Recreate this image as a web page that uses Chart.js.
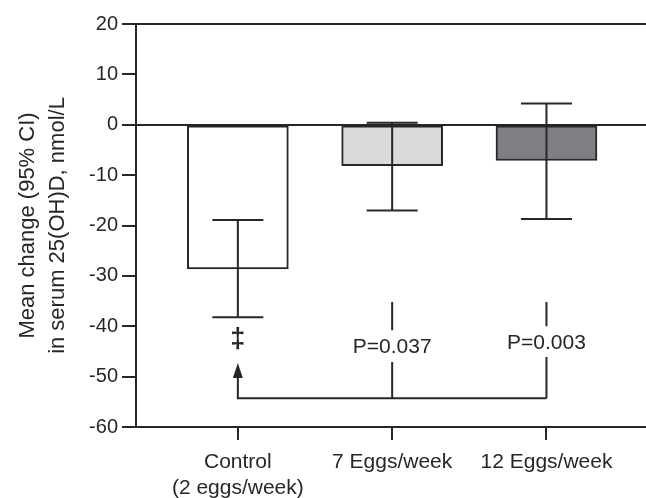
<!DOCTYPE html>
<html>
<head>
<meta charset="utf-8">
<script src="https://cdn.jsdelivr.net/npm/chart.js@4.4.0/dist/chart.umd.min.js"></script>
<style>
  html, body { margin: 0; padding: 0; background: #fff; }
  #wrap { width: 646px; height: 498px; }
</style>
</head>
<body>
<div id="wrap"><canvas id="eggs"></canvas></div>
<script>
const categories = [['Control', '(2 eggs/week)'], '7 Eggs/week', '12 Eggs/week'];
const meanChange = [-28.6, -8.1, -7.1];
const ciLower = [-38.2, -17.0, -18.7];
const ciUpper = [-18.9, 0.4, 4.2];
const barColors = ['#ffffff', '#d9dadc', '#7e7f83'];
const yTicks = [-60, -50, -40, -30, -20, -10, 0, 10, 20];
const pLabels = ['', 'P=0.037', 'P=0.003'];

// where the significance marks sit, in y-axis units
const daggerY = -42.6;
const arrowTipY = -47.3;
const bracketY = -54.3;
const stemTopY = -35.2;
const stemGaps = [null, [-40.8, -47.1], [-40.0, -46.1]];
const pLabelY = [null, -44.1, -43.3];

const ink = '#2a2627';
const family = '"Liberation Sans", Arial, Helvetica, sans-serif';

const extras = {
    id: 'extras',
    afterDatasetsDraw(chart) {
        const {ctx, scales: {x, y}} = chart;
        ctx.save();
        ctx.strokeStyle = ink;
        ctx.fillStyle = ink;
        ctx.lineWidth = 2;

        // 95% CI whiskers
        meanChange.forEach((m, i) => {
            const cx = x.getPixelForValue(i);
            const lo = y.getPixelForValue(ciLower[i]);
            const hi = y.getPixelForValue(ciUpper[i]);
            ctx.beginPath();
            ctx.moveTo(cx, lo);
            ctx.lineTo(cx, hi);
            ctx.moveTo(cx - 25.5, lo);
            ctx.lineTo(cx + 25.5, lo);
            ctx.moveTo(cx - 25.5, hi);
            ctx.lineTo(cx + 25.5, hi);
            ctx.stroke();
        });

        // bracket back to control
        const by = y.getPixelForValue(bracketY);
        const x0 = x.getPixelForValue(0);
        const tip = y.getPixelForValue(arrowTipY);
        ctx.beginPath();
        ctx.moveTo(x0, tip + 12);
        ctx.lineTo(x0, by);
        ctx.lineTo(x.getPixelForValue(2), by);
        ctx.stroke();
        ctx.beginPath();
        ctx.moveTo(x0, tip);
        ctx.lineTo(x0 - 5, tip + 15);
        ctx.lineTo(x0 + 5, tip + 15);
        ctx.closePath();
        ctx.fill();

        ctx.textAlign = 'center';
        ctx.textBaseline = 'middle';
        ctx.font = 'bold 27px ' + family;
        ctx.fillText('\u2021', x0, y.getPixelForValue(daggerY));

        ctx.font = '21px ' + family;
        [1, 2].forEach(i => {
            const cx = x.getPixelForValue(i);
            ctx.beginPath();
            ctx.moveTo(cx, y.getPixelForValue(stemTopY));
            ctx.lineTo(cx, y.getPixelForValue(stemGaps[i][0]));
            ctx.moveTo(cx, y.getPixelForValue(stemGaps[i][1]));
            ctx.lineTo(cx, by);
            ctx.stroke();
            ctx.fillText(pLabels[i], cx, y.getPixelForValue(pLabelY[i]));
        });
        ctx.restore();
    }
};

new Chart(document.getElementById('eggs'), {
    type: 'bar',
    data: {
        datasets: [
            {
                label: 'Mean change',
                data: meanChange.map((v, i) => ({x: i, y: v})),
                backgroundColor: barColors,
                borderColor: ink,
                borderWidth: 2,
                borderSkipped: false,
                barThickness: 101,
            }
        ],
    },
    options: {
        responsive: true,
        maintainAspectRatio: false,
        animation: false,
        layout: {padding: {top: 24, right: 0, bottom: 0, left: 0}},
        plugins: {legend: {display: false}, tooltip: {enabled: false}},
        scales: {
            x: {
                type: 'linear',
                min: -0.66,
                max: 2.645,
                offset: false,
                afterBuildTicks: (s) => { s.ticks = categories.map((c, i) => ({value: i})); },
                afterFit: (s) => { s.height = 71; },
                border: {display: true, color: ink, width: 2},
                grid: {offset: false, drawOnChartArea: false, drawTicks: true, tickLength: 13, tickColor: ink, color: ink, lineWidth: 2},
                ticks: {
                    color: ink,
                    font: {family: family, size: 21, lineHeight: '26px'},
                    padding: 9,
                    maxRotation: 0,
                    autoSkip: false,
                    callback: (v) => categories[v],
                },
            },
            y: {
                min: -60,
                max: 20,
                afterBuildTicks: (s) => { s.ticks = yTicks.map((v) => ({value: v})); },
                afterFit: (s) => { s.width = 136; },
                border: {display: true, color: ink, width: 2},
                grid: {
                    color: (c) => (c.tick && (c.tick.value === 0 || c.tick.value === 20)) ? ink : 'rgba(0,0,0,0)',
                    lineWidth: 2,
                    tickColor: ink,
                    tickLength: 14,
                },
                ticks: {color: ink, font: {family: family, size: 20}, padding: 4},
                title: {
                    display: true,
                    text: ['Mean change (95% CI)', 'in serum 25(OH)D, nmol/L'],
                    color: ink,
                    font: {family: family, size: 22, lineHeight: '30px'},
                    padding: {top: 13, bottom: 0},
                },
            },
        },
    },
    plugins: [extras],
});
</script>
</body>
</html>
